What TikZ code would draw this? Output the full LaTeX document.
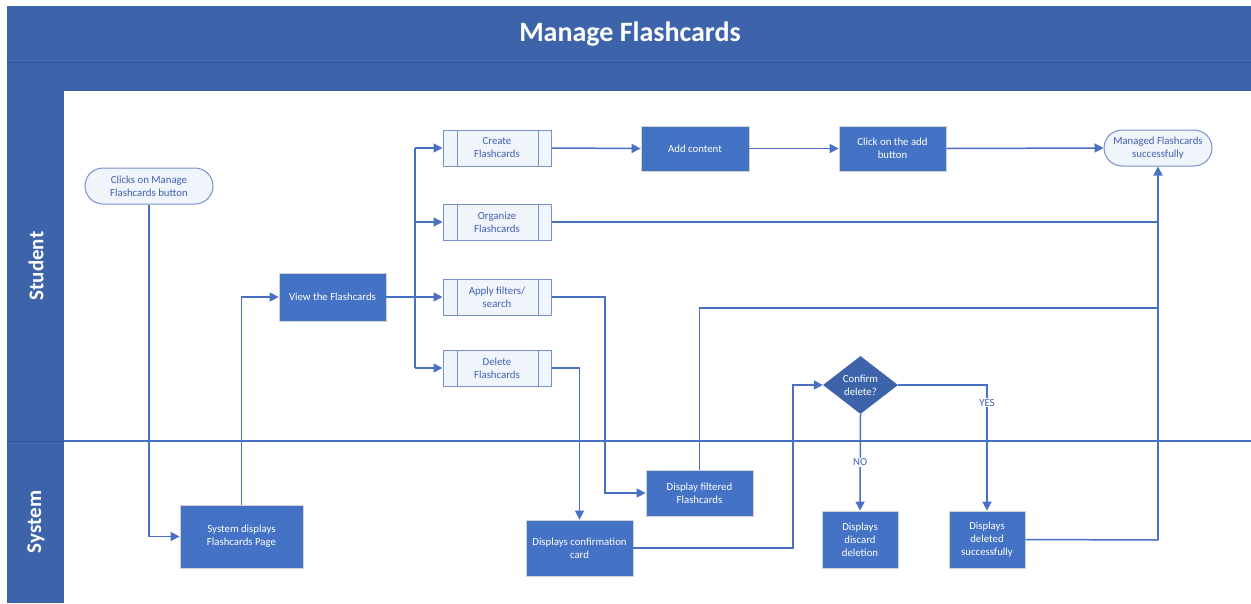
\documentclass[tikz,border=0pt]{standalone}
\usepackage{fontspec}
\setmainfont{Carlito}
\usetikzlibrary{shapes.geometric,arrows.meta}
\definecolor{hdr}{RGB}{61,100,170}
\definecolor{hdrline}{RGB}{47,82,150}
\definecolor{boxb}{RGB}{68,114,196}
\definecolor{lnc}{RGB}{72,112,196}
\definecolor{lightf}{RGB}{240,244,251}
\definecolor{lightd}{RGB}{120,145,205}
\definecolor{ltext}{RGB}{64,96,176}
\tikzset{
  proc/.style={draw=gray!35, line width=0.8pt, fill=boxb, text=white, align=center, inner sep=0pt, font=\fontsize{10.8}{13}\selectfont},
  term/.style={draw=lightd, line width=1pt, fill=lightf, text=ltext, rounded corners=18pt, align=center, inner sep=0pt, font=\fontsize{10.8}{13}\selectfont},
  sub/.style={draw=lightd, line width=1pt, fill=lightf, text=ltext, align=center, inner sep=0pt, minimum width=108pt, minimum height=36pt, font=\fontsize{10.8}{13}\selectfont,
    path picture={\draw[lightd, line width=1pt] ([xshift=14pt]path picture bounding box.north west) -- ([xshift=14pt]path picture bounding box.south west);
                  \draw[lightd, line width=1pt] ([xshift=-13pt]path picture bounding box.north east) -- ([xshift=-13pt]path picture bounding box.south east);}},
  dec/.style={diamond, aspect=1.3, fill=hdr, text=white, align=center, inner sep=0pt, minimum width=75pt, minimum height=58pt, font=\fontsize{10.8}{13}\selectfont},
  conn/.style={draw=lnc, line width=1.5pt},
  arr/.style={conn, -{Triangle[length=9pt,width=9pt]}},
  lbl/.style={text=ltext, fill=white, inner sep=1pt, font=\fontsize{10.8}{12}\selectfont},
  lane/.style={rotate=90, text=white, font=\fontsize{21}{24}\bfseries\selectfont},
}
\begin{document}
\begin{tikzpicture}[x=1pt,y=-1pt]
\useasboundingbox (0,0) rectangle (1251,603);
\fill[white] (0,0) rectangle (1251,603);
% header
\fill[hdr] (7,6) rectangle (1251,91);
\draw[hdrline, line width=1pt] (7,62) -- (1251,62);
\node[text=white, font=\fontsize{28}{30}\bfseries\selectfont] (title) at (630,34) {Manage Flashcards};
% lane column
\fill[hdr] (7,91) rectangle (64,603);
\draw[hdrline, line width=1pt] (7,441) -- (64,441);
\draw[lnc, line width=1.2pt] (64,441) -- (1251,441);
\node[lane] (student) at (36,266) {Student};
\node[lane] (system) at (36,522) {System};

% nodes
\node[term, minimum width=128pt, minimum height=36pt] (clicks) at (149,186) {Clicks on Manage\\Flashcards button};
\node[proc, minimum width=123pt, minimum height=63pt] (sysdisp) at (241.5,536.5) {System displays\\Flashcards Page};
\node[proc, minimum width=107pt, minimum height=48pt] (view) at (332.5,297) {View the Flashcards};
\node[sub] (create) at (497,148) {Create\\Flashcards};
\node[sub] (organize) at (497,222) {Organize\\Flashcards};
\node[sub] (apply) at (497,297) {Apply filters/\\search};
\node[sub] (delete) at (497,368) {Delete\\Flashcards};
\node[proc, minimum width=108pt, minimum height=45pt] (addc) at (695,148.5) {Add content};
\node[proc, minimum width=107pt, minimum height=45pt] (clickadd) at (892.5,148.5) {Click on the add\\button};
\node[term, minimum width=108pt, minimum height=36pt] (managed) at (1158,148) {Managed Flashcards\\successfully};
\node[dec] (confirm) at (860.5,385) {Confirm\\delete?};
\node[proc, minimum width=107pt, minimum height=46pt] (filtered) at (699.5,493) {Display filtered\\Flashcards};
\node[proc, minimum width=107pt, minimum height=56pt] (confcard) at (579.5,548) {Displays confirmation\\card};
\node[proc, minimum width=76pt, minimum height=57pt] (discard) at (860,539.5) {Displays\\discard\\deletion};
\node[proc, minimum width=76pt, minimum height=57pt] (deleted) at (987,539.5) {Displays\\deleted\\successfully};

% connectors
\draw[arr] (clicks.south) |- (sysdisp.west);
\draw[arr] (sysdisp.north) |- (view.west);
\coordinate (trunk) at (415,297);
\draw[conn] (view.east) -- (trunk);
\draw[conn] (415,148) -- (415,368);
\draw[arr] (415,148) -- (create.west);
\draw[arr] (415,222) -- (organize.west);
\draw[arr] (trunk) -- (apply.west);
\draw[arr] (415,368) -- (delete.west);
\draw[arr] (create.east) -- (addc.west);
\draw[arr] (addc.east) -- (clickadd.west);
\draw[arr] (clickadd.east) -- (managed.west);
\coordinate (bus) at (1158,540);
\draw[arr] (bus) -- (managed.south);
\draw[conn] (organize.east) -- (1158,222);
\draw[arr] (apply.east) -- (605,297) |- (filtered.west);
\draw[conn] (filtered.north) |- (1158,308);
\draw[arr] (delete.east) -| (confcard.north);
\draw[arr] (confcard.east) -- (793,548) |- (confirm.west);
\draw[arr] (confirm.south) -- node[lbl, pos=0.5] (nolbl) {NO} (discard.north);
\draw[arr] (confirm.east) -| node[lbl, pos=0.57] (yeslbl) {YES} (deleted.north);
\draw[conn] (deleted.east) -- (bus);
\end{tikzpicture}
\end{document}
